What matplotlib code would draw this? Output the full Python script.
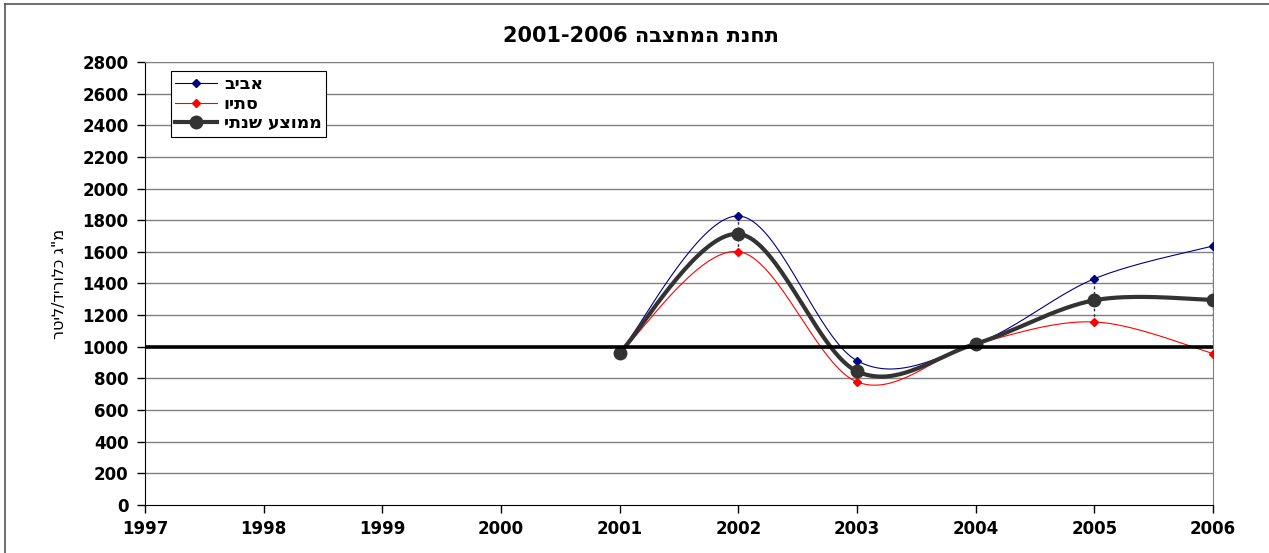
import numpy as np
import matplotlib
matplotlib.use('Agg')
import matplotlib.pyplot as plt
from matplotlib.lines import Line2D

plt.rcParams['font.family'] = ['DejaVu Sans']

# chloride readings per station visit
years = [2001, 2002, 2003, 2004, 2005, 2006]
spring = [962, 1827, 912, 1020, 1430, 1637]
autumn = [960, 1602, 778, 1018, 1157, 957]
annual_avg = [961, 1713, 845, 1019, 1294, 1297]

xticks = [1997, 1998, 1999, 2000, 2001, 2002, 2003, 2004, 2005, 2006]
yticks = list(range(0, 2801, 200))
limit = 1000

title_he = 'תחנת המחצבה'
ylabel_he = 'מ"ג כלוריד/ליטר'
names = ['אביב', 'סתיו', 'ממוצע שנתי']


# hebrew has to be flipped since matplotlib has no bidi support
def rtl(s):
    return s[::-1]


# excel style smoothed line (bezier through the points)
def smooth(x, y, n=40):
    p = np.column_stack([x, y]).astype(float)
    p = np.vstack([p[0], p, p[-1]])
    out = []
    for i in range(1, len(p) - 2):
        p0, p1, p2, p3 = p[i - 1], p[i], p[i + 1], p[i + 2]
        c1 = p1 + (p2 - p0) / 6.0
        c2 = p2 - (p3 - p1) / 6.0
        t = np.linspace(0, 1, n)[:, None]
        seg = ((1 - t) ** 3) * p1 + 3 * ((1 - t) ** 2) * t * c1 + 3 * (1 - t) * t ** 2 * c2 + t ** 3 * p2
        out.append(seg if i == 1 else seg[1:])
    out = np.vstack(out)
    return out[:, 0], out[:, 1]


fig = plt.figure(figsize=(12.69, 5.53), dpi=100)
ax = fig.add_axes([0.1143, 0.0868, 0.8416, 0.8011])

# outer frame of the chart area
fig.add_artist(Line2D([0.004, 1.0], [0.993, 0.993], color='#555555', lw=1.2, transform=fig.transFigure))
fig.add_artist(Line2D([0.004, 0.004], [0.0, 0.993], color='#555555', lw=1.2, transform=fig.transFigure))

for v in yticks[1:]:
    ax.axhline(v, color='#808080', lw=1.0, zorder=1)

# drop lines between spring and autumn
ax.vlines(years, autumn, spring, colors='#333333', linestyles=(0, (2, 2)), lw=1, zorder=2)

ax.plot(*smooth(years, spring), color='#000080', lw=0.8, zorder=3)
ax.plot(years, spring, ls='none', marker='D', ms=4, color='#000080', zorder=3)

ax.plot(*smooth(years, autumn), color='#ff0000', lw=0.8, zorder=3)
ax.plot(years, autumn, ls='none', marker='D', ms=4, color='#ff0000', zorder=3)

ax.plot(*smooth(years, annual_avg), color='#333333', lw=3, zorder=4)
ax.plot(years, annual_avg, ls='none', marker='o', ms=9, color='#333333', zorder=4)

ax.axhline(limit, color='black', lw=2.6, zorder=5)

ax.set_xlim(1997, 2006)
ax.set_ylim(0, 2800)
ax.set_xticks(xticks)
ax.set_yticks(yticks)
ax.tick_params(direction='out', length=6, width=1, color='black', labelsize=12)
for lbl in ax.get_xticklabels() + ax.get_yticklabels():
    lbl.set_fontweight('bold')
ax.tick_params(axis='x', pad=5)
ax.tick_params(axis='y', pad=6)

for side in ['top', 'right']:
    ax.spines[side].set_color('#808080')
ax.spines['left'].set_color('black')
ax.spines['bottom'].set_color('black')

fig.text(0.505, 0.935, '2001-2006 ' + rtl(title_he), fontsize=15, fontweight='bold',
         ha='center', va='center')
ax.set_ylabel(rtl(ylabel_he), fontsize=11.5, labelpad=11)

handles = [
    Line2D([], [], color='#000080', lw=0.8, marker='D', ms=4),
    Line2D([], [], color='#ff0000', lw=0.8, marker='D', ms=4),
    Line2D([], [], color='#333333', lw=3, marker='o', ms=9),
]
leg = ax.legend(handles, [rtl(n) for n in names], loc='upper left', bbox_to_anchor=(0.016, 1.0),
                frameon=True, fancybox=False, edgecolor='black', framealpha=1,
                prop={'size': 12.5, 'weight': 'bold'}, handlelength=2.4, borderpad=0.25,
                labelspacing=0.1, handletextpad=0.4)
leg.get_frame().set_linewidth(0.8)
leg.set_zorder(10)

fig.savefig('out.png', dpi=100)
